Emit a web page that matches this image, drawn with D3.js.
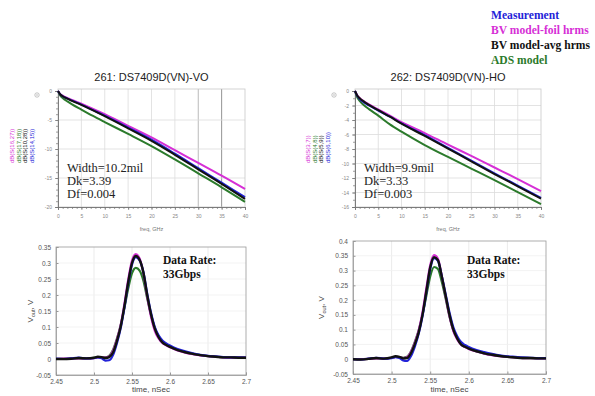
<!DOCTYPE html>
<html><head><meta charset="utf-8">
<script src="https://cdn.jsdelivr.net/npm/d3@7"></script>
<style>body{margin:0;background:#fff}svg{display:block}</style>
</head><body>
<script>
// ---------- DATA ----------
const legendLabels = ["Measurement", "BV model-foil hrms", "BV model-avg hrms", "ADS model"];
const seriesColors = ["#2323d8", "#d62fd6", "#111111", "#2b7a2b"];

// Top-left: 261: DS7409D(VN)-VO  (dB vs GHz)
const freqL = [0,0.5,1,2,3,5,7.5,10,15,20,25,30,35,40];
const measL = [0,-0.6,-0.9,-1.3,-1.65,-2.35,-3.3,-4.25,-6.3,-8.4,-10.8,-13.3,-15.8,-18.3];
const foilL = [0,-0.55,-0.8,-1.2,-1.55,-2.2,-3.1,-4.0,-6.0,-8.0,-10.2,-12.4,-14.6,-16.9];
const avgL  = [0,-0.6,-0.9,-1.3,-1.7,-2.4,-3.35,-4.35,-6.45,-8.6,-11.0,-13.5,-16.0,-18.6];
const adsL  = [0,-0.8,-1.2,-1.8,-2.3,-3.2,-4.3,-5.35,-7.4,-9.5,-11.8,-14.2,-16.6,-19.1];

// Top-right: 262: DS7409D(VN)-HO
const freqR = [0,0.5,1,2,3,5,7.5,10,15,20,25,30,35,40];
const measR = [0,-0.7,-1.1,-1.6,-2.0,-2.7,-3.55,-4.45,-6.1,-7.85,-9.6,-11.35,-13.05,-14.75];
const foilR = [0,-0.6,-0.95,-1.45,-1.85,-2.55,-3.4,-4.3,-5.8,-7.4,-8.95,-10.55,-12.15,-13.8];
const avgR  = [0,-0.65,-1.0,-1.5,-1.9,-2.65,-3.55,-4.5,-6.2,-7.95,-9.7,-11.45,-13.15,-14.85];
const adsR  = [0,-0.9,-1.35,-2.0,-2.5,-3.4,-4.6,-5.6,-7.45,-9.1,-10.7,-12.3,-13.95,-15.6];

const ticksTopXL = [0,5,10,15,20,25,30,35,40];
const ticksTopYL = [0,-5,-10,-15,-20];
const ticksTopYR = [0,-2,-4,-6,-8,-10,-12,-14,-16];

// Bottom: pulse responses (V vs nSec)
const timeB = [2.45,2.46,2.47,2.48,2.49,2.50,2.505,2.51,2.515,2.52,2.525,2.53,2.535,2.54,2.545,2.55,2.555,2.56,2.565,2.57,2.575,2.58,2.585,2.59,2.595,2.60,2.61,2.62,2.63,2.64,2.65,2.66,2.67,2.68,2.69,2.70];
const measB1 = [0.001,0.000,0.002,0.004,0.002,0.003,0.005,0.002,-0.005,-0.004,0.012,0.048,0.095,0.160,0.235,0.295,0.318,0.308,0.272,0.205,0.145,0.100,0.074,0.058,0.049,0.042,0.031,0.024,0.018,0.013,0.010,0.008,0.006,0.005,0.005,0.004];
const foilB1 = [0.000,0.001,0.001,0.002,0.002,0.003,0.005,0.005,0.004,0.008,0.025,0.060,0.105,0.172,0.248,0.308,0.328,0.314,0.268,0.195,0.132,0.088,0.064,0.050,0.043,0.037,0.027,0.020,0.015,0.011,0.009,0.007,0.005,0.004,0.004,0.004];
const avgB1  = [0.000,0.000,0.001,0.003,0.002,0.004,0.007,0.006,0.003,0.006,0.020,0.055,0.100,0.165,0.240,0.300,0.322,0.310,0.270,0.200,0.140,0.095,0.068,0.052,0.044,0.038,0.028,0.021,0.016,0.012,0.009,0.007,0.005,0.005,0.004,0.004];
const adsB1  = [0.000,0.000,0.001,0.002,0.002,0.004,0.006,0.006,0.005,0.010,0.028,0.062,0.105,0.160,0.220,0.268,0.285,0.276,0.245,0.190,0.138,0.097,0.071,0.055,0.046,0.039,0.029,0.022,0.016,0.012,0.009,0.007,0.005,0.005,0.004,0.004];

const measB2 = [0.000,-0.001,0.002,0.005,0.002,0.004,0.007,0.004,-0.004,-0.006,0.010,0.042,0.085,0.145,0.225,0.305,0.342,0.333,0.282,0.220,0.158,0.108,0.078,0.058,0.048,0.041,0.031,0.024,0.018,0.013,0.010,0.008,0.006,0.005,0.004,0.004];
const foilB2 = [0.000,0.000,0.001,0.003,0.002,0.005,0.008,0.007,0.004,0.007,0.024,0.055,0.096,0.158,0.240,0.318,0.352,0.340,0.282,0.212,0.145,0.095,0.067,0.049,0.041,0.035,0.026,0.019,0.014,0.010,0.008,0.006,0.004,0.004,0.003,0.003];
const avgB2  = [0.000,-0.001,0.001,0.004,0.002,0.006,0.010,0.008,0.003,0.004,0.020,0.050,0.090,0.150,0.230,0.310,0.345,0.335,0.280,0.215,0.150,0.100,0.070,0.050,0.042,0.036,0.027,0.020,0.015,0.011,0.008,0.006,0.004,0.004,0.003,0.003];
const adsB2  = [0.000,0.000,0.001,0.003,0.002,0.005,0.008,0.007,0.005,0.008,0.026,0.058,0.097,0.150,0.215,0.280,0.312,0.305,0.262,0.205,0.145,0.098,0.070,0.051,0.043,0.037,0.027,0.020,0.015,0.011,0.008,0.006,0.004,0.004,0.003,0.003];

const ticksBotX = [2.45,2.5,2.55,2.6,2.65,2.7];
const ticksBotY1 = [-0.05,0,0.05,0.1,0.15,0.2,0.25,0.3,0.35];
const ticksBotY2 = [-0.05,0,0.05,0.1,0.15,0.2,0.25,0.3,0.35,0.4];

const sParamL = ["dB(S(16,27))","dB(S(17,18))","dB(S(10,28))","dB(S(14,15))"];
const sParamR = ["dB(S(3,7))","dB(S(4,8))","dB(S(5,9))","dB(S(6,10))"];

// ---------- DRAW ----------
const svg = d3.select("body").append("svg").attr("width",595).attr("height",396);
svg.append("rect").attr("width",595).attr("height",396).attr("fill","#fff");

const fmt = d => String(+d.toFixed(2));

// legend
const lg = svg.append("g");
legendLabels.forEach((t,i)=>{
  lg.append("text").attr("x",491).attr("y",19+i*15)
    .attr("font-family","Liberation Serif, Times New Roman, serif")
    .attr("font-weight","bold").attr("font-size",11.6)
    .attr("fill", i===2 ? "#111" : seriesColors[i]).text(t);
});

function drawTop(o){
  const g = svg.append("g");
  const x = d3.scaleLinear().domain([0,40]).range([o.x0,o.x1]);
  const y = d3.scaleLinear().domain([o.ymin,0]).range([o.yb,o.yt]);
  g.append("text").attr("x",(o.x0+o.x1)/2).attr("y",81).attr("text-anchor","middle")
   .attr("font-family","Liberation Sans, Arial, sans-serif").attr("font-size",11).attr("fill","#222").text(o.title);
  ticksTopXL.slice(1,-1).forEach(v=>{
    g.append("line").attr("x1",x(v)).attr("x2",x(v)).attr("y1",o.yt-2).attr("y2",o.yb)
     .attr("stroke", (o.dark||{})[v] || "#dcdcdc").attr("stroke-width",0.8);
  });
  o.yt_ticks.slice(1,-1).forEach(v=>{
    g.append("line").attr("x1",o.x0).attr("x2",o.x1).attr("y1",y(v)).attr("y2",y(v))
     .attr("stroke","#dcdcdc").attr("stroke-width",0.8);
  });
  g.append("rect").attr("x",o.x0).attr("y",o.yt-2).attr("width",o.x1-o.x0).attr("height",o.yb-o.yt+2)
   .attr("fill","none").attr("stroke","#c8c8c8").attr("stroke-width",0.8);
  const ax = g.append("g").attr("transform",`translate(0,${o.yb})`)
    .call(d3.axisBottom(x).tickValues(ticksTopXL).tickSize(3).tickFormat(d=>d));
  const axm = g.append("g").attr("transform",`translate(0,${o.yb})`)
    .call(d3.axisBottom(x).tickValues(d3.range(0,41,1)).tickSize(2).tickFormat(""));
  const ay = g.append("g").attr("transform",`translate(${o.x0},0)`)
    .call(d3.axisLeft(y).tickValues(o.yt_ticks).tickSize(3).tickFormat(d=>d));
  const aym = g.append("g").attr("transform",`translate(${o.x0},0)`)
    .call(d3.axisLeft(y).tickValues(d3.range(o.ymin,0.01,o.minor)).tickSize(2).tickFormat(""));
  [ax,axm,ay,aym].forEach(a=>{
    a.select(".domain").attr("stroke","#777").attr("stroke-width",0.8);
    a.selectAll(".tick line").attr("stroke","#777").attr("stroke-width",0.7);
    a.selectAll("text").attr("font-size",5).attr("fill","#888").attr("font-family","Liberation Sans, Arial, sans-serif");
  });
  ax.selectAll("text").attr("dy","1.0em");
  g.append("text").attr("x",(o.x0+o.x1)/2).attr("y",231).attr("text-anchor","middle")
   .attr("font-family","Liberation Sans, Arial, sans-serif").attr("font-size",5.5).attr("fill","#777").text("freq, GHz");
  g.append("circle").attr("cx",o.x0-21).attr("cy",95).attr("r",2.2).attr("fill","none").attr("stroke","#aaa").attr("stroke-width",0.7);
  g.append("circle").attr("cx",o.x0-21).attr("cy",95).attr("r",0.7).attr("fill","#aaa");
  const sc = [seriesColors[1], seriesColors[3], seriesColors[2], seriesColors[0]];
  o.sp.forEach((t,i)=>{
    g.append("text").attr("transform",`translate(${o.spx+i*6.5},${163}) rotate(-90)`)
     .attr("font-family","Liberation Sans, Arial, sans-serif").attr("font-size",6)
     .attr("fill",sc[i]).text(t);
  });
  const line = d3.line().x((d,i)=>x(o.f[i])).y(d=>y(d)).curve(d3.curveMonotoneX);
  [3,1,0,2].forEach(k=>{
    g.append("path").attr("d",line(o.s[k])).attr("fill","none")
     .attr("stroke",seriesColors[k]).attr("stroke-width",2);
  });
  o.ann.forEach((t,i)=>{
    g.append("text").attr("x",o.x0+9).attr("y",172+i*13)
     .attr("font-family","Liberation Serif, Times New Roman, serif").attr("font-size",12.5)
     .attr("fill","#222").text(t);
  });
}

drawTop({x0:58,x1:245,yt:91,yb:207,ymin:-20,minor:1,yt_ticks:ticksTopYL,
  title:"261: DS7409D(VN)-VO", f:freqL, s:[measL,foilL,avgL,adsL],
  ann:["Width=10.2mil","Dk=3.39","Df=0.004"], sp:sParamL, spx:14, dark:{30:"#aaa",35:"#777"}});
drawTop({x0:355,x1:541,yt:91,yb:207,ymin:-16,minor:1,yt_ticks:ticksTopYR,
  title:"262: DS7409D(VN)-HO", f:freqR, s:[measR,foilR,avgR,adsR],
  ann:["Width=9.9mil","Dk=3.33","Df=0.003"], sp:sParamR, spx:310});

function drawBot(o){
  const g = svg.append("g");
  const x = d3.scaleLinear().domain([2.45,2.7]).range([o.x0,o.x1]);
  const y = d3.scaleLinear().domain([-0.05,o.ymax]).range([o.yb,o.yt]);
  ticksBotX.slice(1,-1).forEach(v=>{
    g.append("line").attr("x1",x(v)).attr("x2",x(v)).attr("y1",o.yt).attr("y2",o.yb).attr("stroke","#e6e6e6").attr("stroke-width",0.8);
  });
  o.yticks.slice(1,-1).forEach(v=>{
    g.append("line").attr("x1",o.x0).attr("x2",o.x1).attr("y1",y(v)).attr("y2",y(v)).attr("stroke","#f0f0f0").attr("stroke-width",0.8);
  });
  g.append("rect").attr("x",o.x0).attr("y",o.yt).attr("width",o.x1-o.x0).attr("height",o.yb-o.yt)
   .attr("fill","none").attr("stroke","#999").attr("stroke-width",0.8);
  const ax = g.append("g").attr("transform",`translate(0,${o.yb})`)
    .call(d3.axisBottom(x).tickValues(ticksBotX).tickSize(-2.5).tickPadding(4).tickFormat(fmt));
  const ay = g.append("g").attr("transform",`translate(${o.x0},0)`)
    .call(d3.axisLeft(y).tickValues(o.yticks).tickSize(-2.5).tickPadding(5).tickFormat(fmt));
  [ax,ay].forEach(a=>{
    a.select(".domain").attr("stroke","#999").attr("stroke-width",0.8);
    a.selectAll(".tick line").attr("stroke","#999");
    a.selectAll("text").attr("font-size",6.5).attr("fill","#555").attr("font-family","Liberation Sans, Arial, sans-serif");
  });
  g.append("text").attr("x",(o.x0+o.x1)/2).attr("y",392).attr("text-anchor","middle")
   .attr("font-family","Liberation Sans, Arial, sans-serif").attr("font-size",8).attr("fill","#444").text("time, nSec");
  const yl = g.append("text").attr("transform",`translate(${o.ylx},${(o.yt+o.yb)/2}) rotate(-90)`)
   .attr("text-anchor","middle").attr("font-family","Liberation Sans, Arial, sans-serif").attr("font-size",8).attr("fill","#444");
  yl.append("tspan").text("V");
  yl.append("tspan").attr("font-size",5.5).attr("dy",2).text("out");
  yl.append("tspan").attr("dy",-2).text(", V");
  const line = d3.line().x((d,i)=>x(timeB[i])).y(d=>y(d)).curve(d3.curveMonotoneX);
  [3,1,0,2].forEach(k=>{
    g.append("path").attr("d",line(o.s[k])).attr("fill","none")
     .attr("stroke",seriesColors[k]).attr("stroke-width",k===2?2.4:2.2);
  });
  ["Data Rate:","33Gbps"].forEach((t,i)=>{
    g.append("text").attr("x",o.tx).attr("y",264+i*14)
     .attr("font-family","Liberation Serif, Times New Roman, serif").attr("font-weight","bold")
     .attr("font-size",11.5).attr("fill","#111").text(t);
  });
}

drawBot({x0:56,x1:246,yt:247,yb:375,ymax:0.35,yticks:ticksBotY1,s:[measB1,foilB1,avgB1,adsB1],ylx:33,tx:163});
drawBot({x0:353,x1:546,yt:241,yb:374,ymax:0.4,yticks:ticksBotY2,s:[measB2,foilB2,avgB2,adsB2],ylx:324,tx:467});
</script>
</body></html>
